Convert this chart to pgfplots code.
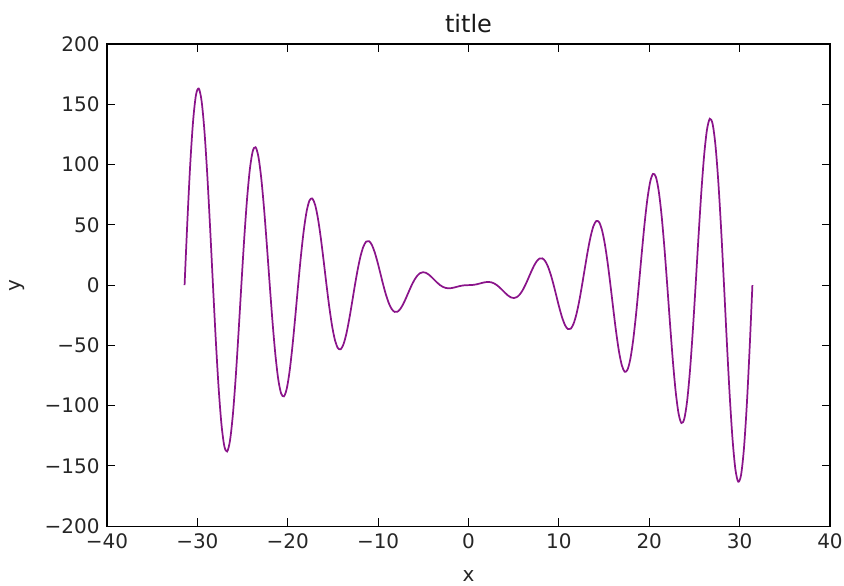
\documentclass[border=0pt]{standalone}
\usepackage{pgfplots}
\pgfplotsset{compat=1.18}
\usepackage{fontspec}
\setmainfont{DejaVu Sans}
\definecolor{curve}{HTML}{8A148A}
\begin{document}
\begin{tikzpicture}
\begin{axis}[
  width=542pt, height=361.5pt, scale only axis,
  xmin=-40, xmax=40, ymin=-200, ymax=200,
  xtick={-40,-30,-20,-10,0,10,20,30,40},
  xticklabels={−40,−30,−20,−10,0,10,20,30,40},
  ytick={-200,-150,-100,-50,0,50,100,150,200},
  yticklabels={−200,−150,−100,−50,0,50,100,150,200},
  tick align=inside, major tick length=6pt,
  xtick pos=both, ytick pos=both,
  axis line style={line width=1pt},
  every tick/.style={black, line width=0.8pt},
  tick label style={font=\fontsize{15}{18}\selectfont, text=black!85},
  xticklabel style={yshift=-2pt},
  yticklabel style={xshift=-2pt},
  label style={font=\fontsize{15}{18}\selectfont, text=black!85},
  title={title}, xlabel={x}, ylabel={y},
  xlabel style={at={(axis description cs:0.5,0)}, anchor=north, yshift=-30pt},
  ylabel style={at={(axis description cs:-0.1245,0.5)}, anchor=center, rotate=0},
  title style={font=\fontsize{18}{21}\selectfont, text=black!90, at={(axis description cs:0.5,1)}, anchor=south, yshift=-1.5pt},
  clip=true,
]
\addplot[curve, line width=1.3pt, smooth] coordinates {
(-31.416,0) (-31.102,53.602) (-30.788,100.415) (-30.473,136.098) (-30.159,157.526) (-29.845,163.050) (-29.531,152.629) (-29.217,127.770) (-28.903,91.337) (-28.588,47.237) (-28.274,0) (-27.960,-45.689) (-27.646,-85.444) (-27.332,-115.604) (-27.018,-133.565) (-26.704,-137.996) (-26.389,-128.933) (-26.075,-107.725) (-25.761,-76.856) (-25.447,-39.669) (-25.133,0) (-24.819,38.209) (-24.504,71.302) (-24.190,96.257) (-23.876,110.959) (-23.562,114.374) (-23.248,106.609) (-22.934,88.855) (-22.619,63.235) (-22.305,32.554) (-21.991,0) (-21.677,-31.188) (-21.363,-58.039) (-21.049,-78.128) (-20.735,-89.796) (-20.420,-92.279) (-20.106,-85.746) (-19.792,-71.237) (-19.478,-50.529) (-19.164,-25.925) (-18.850,0) (-18.535,24.661) (-18.221,45.720) (-17.907,61.307) (-17.593,70.183) (-17.279,71.825) (-16.965,66.456) (-16.650,54.968) (-16.336,38.812) (-16.022,19.819) (-15.708,0) (-15.394,-18.665) (-15.080,-34.421) (-14.765,-45.903) (-14.451,-52.249) (-14.137,-53.156) (-13.823,-48.879) (-13.509,-40.169) (-13.195,-28.173) (-12.881,-14.286) (-12.566,0) (-12.252,13.253) (-11.938,24.246) (-11.624,32.063) (-11.310,36.174) (-10.996,36.462) (-10.681,33.202) (-10.367,27.007) (-10.053,18.736) (-9.739,9.392) (-9.425,0) (-9.111,-8.498) (-8.796,-15.335) (-8.482,-19.987) (-8.168,-22.202) (-7.854,-22.011) (-7.540,-19.691) (-7.226,-15.714) (-6.912,-10.681) (-6.597,-5.237) (-6.283,0) (-5.969,4.507) (-5.655,7.905) (-5.341,9.986) (-5.027,10.718) (-4.712,10.230) (-4.398,8.773) (-4.084,6.678) (-3.770,4.303) (-3.456,1.985) (-3.142,0) (-2.827,-1.469) (-2.513,-2.342) (-2.199,-2.638) (-1.885,-2.461) (-1.571,-1.969) (-1.257,-1.340) (-0.942,-0.740) (-0.628,-0.293) (-0.314,-0.054) (0,0)
(0.314,0.054) (0.628,0.293) (0.942,0.740) (1.257,1.340) (1.571,1.969) (1.885,2.461) (2.199,2.638) (2.513,2.342) (2.827,1.469) (3.142,0) (3.456,-1.985) (3.770,-4.303) (4.084,-6.678) (4.398,-8.773) (4.712,-10.230) (5.027,-10.718) (5.341,-9.986) (5.655,-7.905) (5.969,-4.507) (6.283,0) (6.597,5.237) (6.912,10.681) (7.226,15.714) (7.540,19.691) (7.854,22.011) (8.168,22.202) (8.482,19.987) (8.796,15.335) (9.111,8.498) (9.425,0) (9.739,-9.392) (10.053,-18.736) (10.367,-27.007) (10.681,-33.202) (10.996,-36.462) (11.310,-36.174) (11.624,-32.063) (11.938,-24.246) (12.252,-13.253) (12.566,0) (12.881,14.286) (13.195,28.173) (13.509,40.169) (13.823,48.879) (14.137,53.156) (14.451,52.249) (14.765,45.903) (15.080,34.421) (15.394,18.665) (15.708,0) (16.022,-19.819) (16.336,-38.812) (16.650,-54.968) (16.965,-66.456) (17.279,-71.825) (17.593,-70.183) (17.907,-61.307) (18.221,-45.720) (18.535,-24.661) (18.850,0) (19.164,25.925) (19.478,50.529) (19.792,71.237) (20.106,85.746) (20.420,92.279) (20.735,89.796) (21.049,78.128) (21.363,58.039) (21.677,31.188) (21.991,0) (22.305,-32.554) (22.619,-63.235) (22.934,-88.855) (23.248,-106.609) (23.562,-114.374) (23.876,-110.959) (24.190,-96.257) (24.504,-71.302) (24.819,-38.209) (25.133,0) (25.447,39.669) (25.761,76.856) (26.075,107.725) (26.389,128.933) (26.704,137.996) (27.018,133.565) (27.332,115.604) (27.646,85.444) (27.960,45.689) (28.274,0) (28.588,-47.237) (28.903,-91.337) (29.217,-127.770) (29.531,-152.629) (29.845,-163.050) (30.159,-157.526) (30.473,-136.098) (30.788,-100.415) (31.102,-53.602) (31.416,0)
};
\coordinate (bbsw) at (rel axis cs:-0.148,-0.1224);
\coordinate (bbne) at (rel axis cs:1.0194,1.0913);
\end{axis}
\pgfresetboundingbox
\path (bbsw) rectangle (bbne);
\end{tikzpicture}
\end{document}
